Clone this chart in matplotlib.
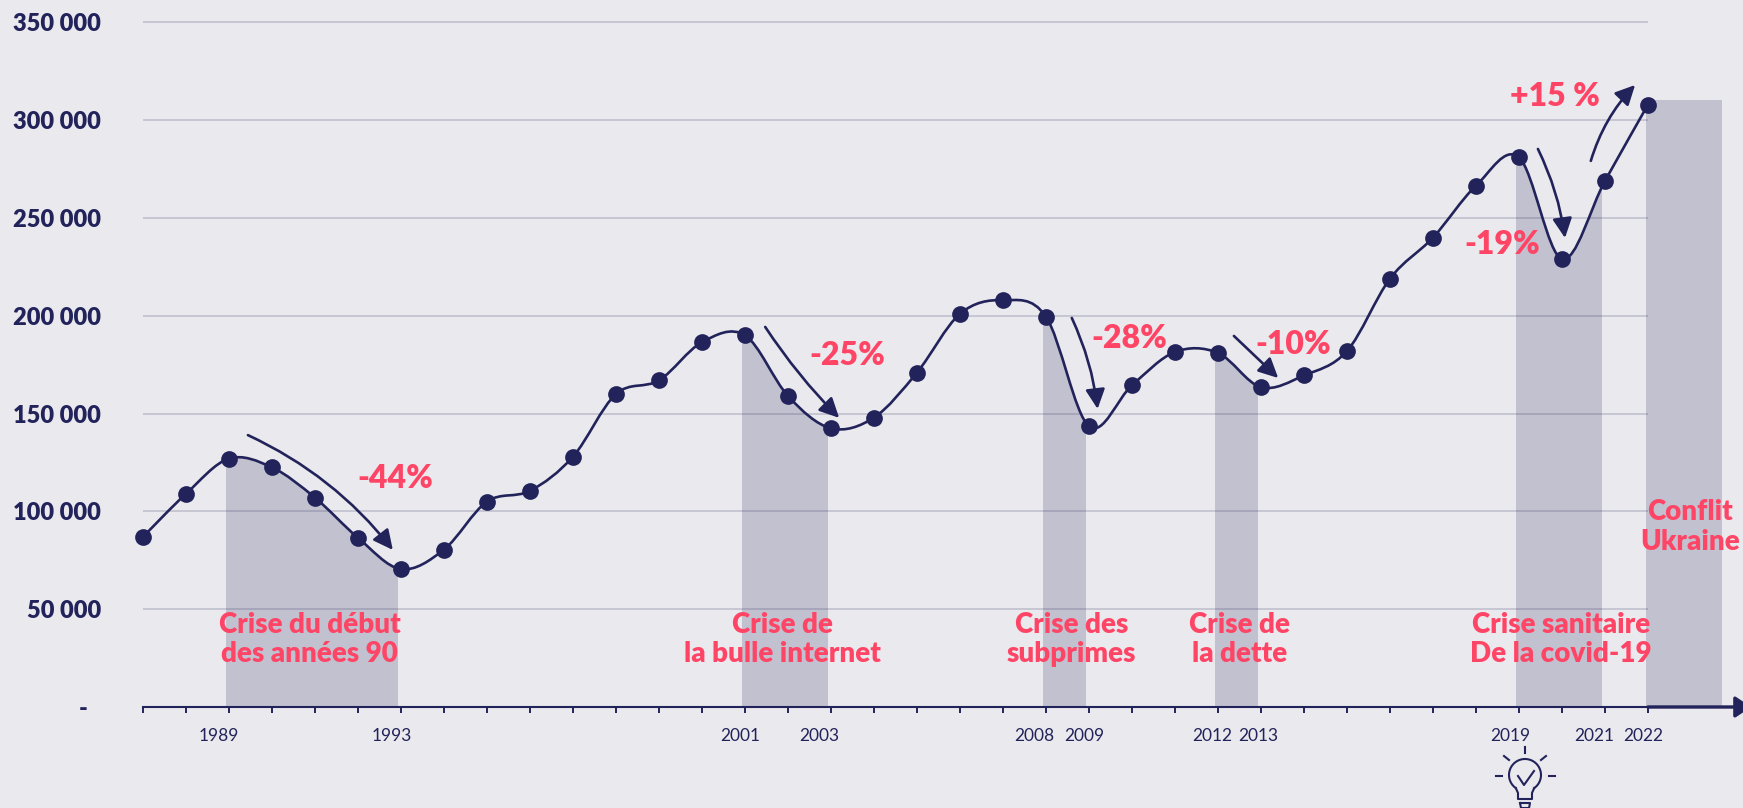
import numpy as np
import matplotlib
matplotlib.use("Agg")
import matplotlib.pyplot as plt
from matplotlib.path import Path
from matplotlib.patches import PathPatch, FancyArrowPatch
from matplotlib.transforms import ScaledTranslation

years = list(range(1987, 2023))
values = [87000, 109000, 127000, 122500, 107000, 86500, 70500, 80500, 105000, 110500,
          128000, 160000, 167000, 186500, 190000, 159000, 142500, 148000, 171000, 201000,
          208000, 199500, 143500, 164500, 181500, 181000, 163500, 169500, 182000, 219000,
          240000, 266500, 281000, 229000, 269000, 308000]
y_ticks = [0, 50000, 100000, 150000, 200000, 250000, 300000, 350000]
y_labels = ["-", "50 000", "100 000", "150 000", "200 000", "250 000", "300 000", "350 000"]
shown_years = [1989, 1993, 2001, 2003, 2008, 2009, 2012, 2013, 2019, 2021, 2022]
crises = [(1989, 1993), (2001, 2003), (2008, 2009), (2012, 2013), (2019, 2021)]
crise_labels = ["Crise du début\ndes années 90", "Crise de\nla bulle internet", "Crise des\nsubprimes",
                "Crise de\nla dette", "Crise sanitaire\nDe la covid-19"]
crise_x = [1990.88, 2001.88, 2008.6, 2012.5, 2019.98]
pct_labels = ["-44%", "-25%", "-28%", "-10%", "-19%", "+15 %"]
pct_x = [1992.86, 2003.37, 2009.93, 2013.74, 2018.6, 2019.84]
pct_y = [117000, 179500, 188200, 185100, 236200, 311900]
# start x, start y, end x, end y, bend
arrows = [(1989.44, 139000, 1992.81, 80300, -0.12),
          (2001.47, 194300, 2003.19, 147800, 0.05),
          (2008.6, 198900, 2009.2, 152400, -0.08),
          (2012.37, 189700, 2013.4, 168200, 0.0),
          (2019.44, 285300, 2020.07, 239800, -0.08),
          (2020.67, 279200, 2021.7, 318000, -0.12)]

BG = '#EAE9EE'
NAVY = '#22235A'
PINK = '#FF4566'
plt.rcParams['font.family'] = ['Lato', 'DejaVu Sans']

W, H = 1743, 808
fig = plt.figure(figsize=(W/100, H/100), dpi=100, facecolor=BG)
ax = fig.add_axes([143/W, (H-707)/H, (W-143)/W, 707/H], facecolor=BG)
ax.set_xlim(1987, 1987 + (W-143)/43)
ax.set_ylim(0, 707*50000/97.8)

# smooth line through the points, same tangents as a spreadsheet smoothed line
xs = np.array(years, dtype=float)
ys = np.array(values, dtype=float)
verts = [(xs[0], ys[0])]
codes = [Path.MOVETO]
n = len(xs)
for i in range(n-1):
    x0, y0 = (xs[i-1], ys[i-1]) if i > 0 else (xs[i], ys[i])
    x3, y3 = (xs[i+2], ys[i+2]) if i < n-2 else (xs[i+1], ys[i+1])
    verts.append((xs[i] + (xs[i+1]-x0)/6, ys[i] + (ys[i+1]-y0)/6))
    verts.append((xs[i+1] - (x3-xs[i])/6, ys[i+1] - (y3-ys[i])/6))
    verts.append((xs[i+1], ys[i+1]))
    codes += [Path.CURVE4]*3
curve = Path(verts, codes)
under = Path(verts + [(xs[-1], 0), (xs[0], 0), (xs[0], ys[0])],
             codes + [Path.LINETO, Path.LINETO, Path.CLOSEPOLY])

ax.hlines(y_ticks[1:], 1987, 2022, color='#BDBCCB', lw=1.1, zorder=1)

clip = PathPatch(under, transform=ax.transData, visible=False)
ax.add_patch(clip)
for a, b in crises:
    span = ax.axvspan(a-0.07, b-0.06, color=NAVY, alpha=0.2, lw=0, zorder=2)
    span.set_clip_path(clip)
ax.axvspan(2021.95, 2023.72, ymax=310400/(707*50000/97.8), color=NAVY, alpha=0.2, lw=0, zorder=2)

ax.add_patch(PathPatch(curve, fill=False, edgecolor=NAVY, lw=1.9, zorder=4, capstyle='round'))
ax.scatter(years, values, s=145, color=NAVY, zorder=5, clip_on=False, linewidths=0)

for x0, y0, x1, y1, bend in arrows:
    ax.add_patch(FancyArrowPatch((x0, y0), (x1, y1), connectionstyle=f"arc3,rad={bend}",
                                 arrowstyle="-|>,head_length=0.85,head_width=0.42", mutation_scale=14,
                                 color=NAVY, lw=1.9, shrinkA=0, shrinkB=0, zorder=4))

for label, x in zip(crise_labels, crise_x):
    ax.text(x, 34300, label, color=PINK, fontsize=20, fontweight='heavy', ha='center', va='center',
            linespacing=1.15, zorder=6)
ax.text(2022.98, 92000, "Conflit\nUkraine", color=PINK, fontsize=20, fontweight='heavy', ha='center',
        va='center', linespacing=1.15, zorder=6)
for label, x, y in zip(pct_labels, pct_x, pct_y):
    ax.text(x, y, label, color=PINK, fontsize=23, fontweight='heavy', ha='center', va='center', zorder=6)

for s in ['top', 'left', 'right']:
    ax.spines[s].set_visible(False)
ax.spines['bottom'].set_color(NAVY)
ax.spines['bottom'].set_linewidth(1.5)
ax.annotate("", xy=(2024.4, 0), xytext=(2022, 0), xycoords='data', textcoords='data',
            arrowprops=dict(arrowstyle="-|>,head_length=0.6,head_width=0.4", color=NAVY, lw=2.4,
                            shrinkA=0, shrinkB=0, mutation_scale=16), annotation_clip=False, zorder=6)

ax.set_yticks(y_ticks, y_labels)
ax.tick_params(axis='y', length=0, pad=30, labelsize=17, labelcolor=NAVY)
for lab in ax.get_yticklabels():
    lab.set_fontweight('heavy')
ax.get_yticklabels()[0].set_transform(ax.get_yticklabels()[0].get_transform()
                                      + ScaledTranslation(-14/100, 0, fig.dpi_scale_trans))

ax.set_xticks(years, [str(y) if y in shown_years else "" for y in years])
ax.tick_params(axis='x', length=4, width=1.4, color=NAVY, pad=11, labelsize=12.5, labelcolor=NAVY)
shifts = {1989: -10, 1993: -9, 2001: -5, 2003: -12, 2008: -12, 2009: -5, 2012: -6, 2013: -3,
          2019: -9, 2021: -11, 2022: -5}
for y, lab in zip(years, ax.get_xticklabels()):
    if y in shifts:
        lab.set_transform(lab.get_transform() + ScaledTranslation(shifts[y]/100, 0, fig.dpi_scale_trans))

# light bulb icon under 2019
icon = fig.add_axes([1490/W, 0, 70/W, 63/H])
icon.set_xlim(1490, 1560)
icon.set_ylim(808, 745)
icon.axis('off')
t = np.radians(np.linspace(-235, 55, 60))
bx = 1525 + 16*np.cos(t)
by = 775 + 16*np.sin(t)
icon.plot(bx, by, color=NAVY, lw=1.5)
icon.plot([bx[0], 1518, 1518, 1532, 1532, bx[-1]], [by[0], 793, 799, 799, 793, by[-1]], color=NAVY, lw=1.5)
icon.plot([1520, 1530, 1529, 1521, 1520], [803, 803, 808, 808, 803], color=NAVY, lw=1.5)
icon.plot([1518, 1524, 1534], [776, 785, 771], color=NAVY, lw=1.5)
for x0, y0, x1, y1 in [(1525, 747, 1525, 753), (1504, 756, 1509, 760), (1546, 756, 1541, 760),
                       (1496, 776, 1502, 776), (1549, 776, 1555, 776)]:
    icon.plot([x0, x1], [y0, y1], color=NAVY, lw=1.5)

fig.savefig("out.png", dpi=100, facecolor=BG)
